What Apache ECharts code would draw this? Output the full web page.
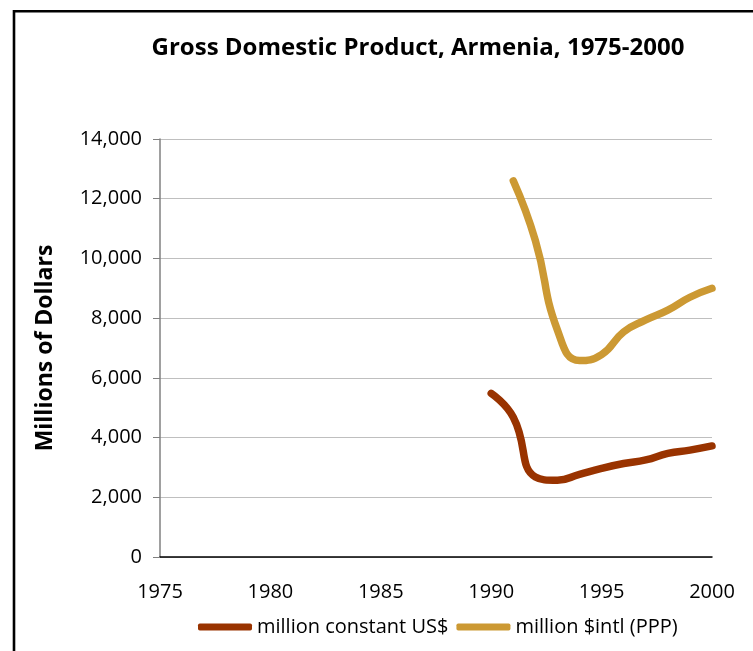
<!DOCTYPE html>
<html>
<head>
<meta charset="utf-8">
<script src="https://cdn.jsdelivr.net/npm/echarts@6/dist/echarts.min.js"></script>
<style>
html,body{margin:0;padding:0;background:#fff;}
#c{width:753px;height:651px;}
</style>
</head>
<body>
<div id="c"></div>
<script>
var titleText = 'Gross Domestic Product, Armenia, 1975-2000';
var yAxisName = 'Millions of Dollars';
var seriesNames = ['million constant US$', 'million $intl (PPP)'];
var years = [1990, 1991, 1992, 1993, 1994, 1995, 1996, 1997, 1998, 1999, 2000];
var usd = [5480, 4680, 2680, 2570, 2770, 2970, 3130, 3250, 3470, 3580, 3720];
var ppp = [null, 12600, 10600, 7600, 6580, 6780, 7540, 7940, 8270, 8700, 9000];
var xMin = 1975, xMax = 2000, xStep = 5;
var yMin = 0, yMax = 14000, yStep = 2000;

function pairs(vals) {
  var out = [];
  for (var i = 0; i < years.length; i++) {
    if (vals[i] !== null) out.push([years[i], vals[i]]);
  }
  return out;
}

var FONT = '"Open Sans", "Noto Sans", sans-serif';
var chart = echarts.init(document.getElementById('c'));
chart.setOption({
  animation: false,
  backgroundColor: '#fff',
  graphic: [
    { type: 'rect', shape: { x: 14, y: 11.2, width: 900, height: 800 },
      style: { fill: 'none', stroke: '#000', lineWidth: 2.6 }, z: 100 },
    { type: 'text', x: 418, y: 48, style: { text: titleText, fill: '#000',
      font: 'bold 24px ' + FONT, textAlign: 'center', textVerticalAlign: 'middle' } }
  ],
  grid: { left: 160, right: 41, top: 139, bottom: 94, containLabel: false },
  legend: {
    bottom: 9, left: 193,
    itemWidth: 54, itemHeight: 7, itemGap: 8,
    icon: 'roundRect',
    textStyle: { fontFamily: FONT, fontSize: 20, color: '#000' },
    data: seriesNames
  },
  xAxis: {
    type: 'value', min: xMin, max: xMax, interval: xStep,
    axisLine: { show: true, lineStyle: { color: '#000', width: 1.5 } },
    axisTick: { show: false },
    splitLine: { show: false },
    axisLabel: { color: '#000', fontFamily: FONT, fontSize: 20, margin: 25,
      formatter: function (v) { return String(v); } }
  },
  yAxis: {
    type: 'value', min: yMin, max: yMax, interval: yStep,
    name: yAxisName, nameLocation: 'middle', nameGap: 103,
    nameTextStyle: { color: '#000', fontFamily: FONT, fontSize: 23, fontWeight: 'bold' },
    axisLine: { show: true, lineStyle: { color: '#808080', width: 1.5 } },
    axisTick: { show: true, length: 7, lineStyle: { color: '#808080' } },
    splitLine: { show: true, lineStyle: { color: '#bfbfbf', width: 1 } },
    axisLabel: { color: '#000', fontFamily: FONT, fontSize: 20, margin: 18,
      formatter: function (v) { return v.toLocaleString('en-US'); } }
  },
  series: [
    { name: seriesNames[0], type: 'line', data: pairs(usd), smooth: 0.5,
      showSymbol: false, symbol: 'none', connectNulls: false,
      lineStyle: { color: '#993300', width: 7.5, cap: 'round', join: 'round' },
      itemStyle: { color: '#993300' } },
    { name: seriesNames[1], type: 'line', data: pairs(ppp), smooth: 0.5,
      showSymbol: false, symbol: 'none',
      lineStyle: { color: '#CC9933', width: 7.5, cap: 'round', join: 'round' },
      itemStyle: { color: '#CC9933' } }
  ]
});
</script>
</body>
</html>
